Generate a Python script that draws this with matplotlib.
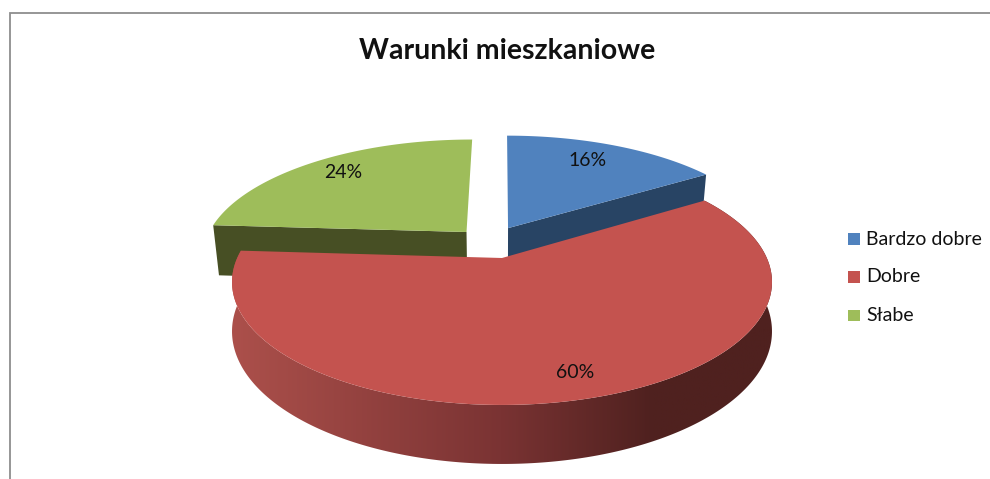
"""3D exploded pie: Warunki mieszkaniowe."""
import numpy as np
import matplotlib
matplotlib.use("Agg")
import matplotlib.pyplot as plt
from matplotlib.colors import LinearSegmentedColormap
from matplotlib.patches import Polygon, Rectangle

plt.rcParams["font.family"] = ["Lato", "DejaVu Sans"]

title = "Warunki mieszkaniowe"
categories = ["Bardzo dobre", "Dobre", "Słabe"]
shares = [16, 60, 24]

colors = ["#5082BE", "#C4534F", "#9EBD5A"]
cut_colors = ["#284464", "#632826", "#474F24"]
# how far each slice is pulled out, in disc units (u right, v to the back)
pull = [(0.024, 0.2655), (0.0, 0.0), (-0.14, 0.2295)]
radius = [1.03, 1.0, 1.015]
label_xy = [(588, 160), (575, 372), (343, 172)]
legend_y = [239, 277, 315.5]

# perspective of the disc, in pixels around the pie centre
CX, CY = 502, 258
A, B, K = 264.8, 118.3, 0.195
DEPTH = 47.5
CUT_DEPTH = 53


def project(u, v, drop=0.0):
    w = 1 + K * v
    return CX + A * u / w, CY - B * v / w + drop / w


def slice_outline(start, end, du, dv, r=1.0):
    theta = np.radians(np.linspace(start, end, 200))
    u = np.concatenate([[du], du + r * np.sin(theta)])
    v = np.concatenate([[dv], dv + r * np.cos(theta)])
    return u, v


fig = plt.figure(figsize=(9.9, 4.79), dpi=100)
ax = fig.add_axes([0, 0, 1, 1])

edges = np.concatenate([[0], np.cumsum(shares)]) * 360 / sum(shares)

# pulled out slices first, the big red one lies over them
for i in (0, 2):
    du, dv = pull[i]
    u, v = slice_outline(edges[i], edges[i + 1], du, dv, radius[i])
    # cut face that looks at the viewer
    if i == 0:
        cu, cv = u[[0, -1]], v[[0, -1]]
    else:
        cu, cv = u[[1, 0]], v[[1, 0]]
    x0, y0 = project(cu, cv)
    x1, y1 = project(cu, cv, CUT_DEPTH)
    # lower edge of the cut face leans in a little towards the centre
    x1 = CX + (x1 - CX) * 0.98
    ax.add_patch(Polygon(np.column_stack([np.r_[x0, x1[::-1]], np.r_[y0, y1[::-1]]]),
                         fc=cut_colors[i], ec="none", zorder=2))
    x, y = project(u, v)
    ax.add_patch(Polygon(np.column_stack([x, y]), fc=colors[i], ec="none", zorder=3))

# red rim with the left to right shading
theta = np.radians(np.linspace(edges[1], edges[2], 400))
rim_u, rim_v = np.sin(theta), np.cos(theta)
xt, yt = project(rim_u, rim_v)
xb, yb = project(rim_u, rim_v, DEPTH)
rim = Polygon(np.column_stack([np.r_[xt, xb[::-1]], np.r_[yt, yb[::-1]]]),
              fc="none", ec="none", zorder=4)
ax.add_patch(rim)
shade = LinearSegmentedColormap.from_list(
    "rim", [(0, "#AC504B"), (0.5, "#7A3333"), (0.78, "#4F211F"), (1, "#4F211F")])
img = ax.imshow(np.linspace(0, 1, 256).reshape(1, -1), cmap=shade, aspect="auto",
                extent=(231, 772, 470, 190), zorder=4)
img.set_clip_path(rim)

u, v = slice_outline(edges[1], edges[2], 0, 0)
x, y = project(u, v)
ax.add_patch(Polygon(np.column_stack([x, y]), fc=colors[1], ec="none", zorder=5))

for share, (lx, ly) in zip(shares, label_xy):
    ax.text(lx, ly, f"{share}%", ha="center", va="center", fontsize=14,
            color="#111111", zorder=6)

for name, color, ly in zip(categories, colors, legend_y):
    ax.add_patch(Rectangle((848, ly - 6), 11.5, 11.5, fc=color, ec="none"))
    ax.text(866, ly, name, ha="left", va="center", fontsize=14, color="#111111")

ax.text(507, 50.5, title, ha="center", va="center", fontsize=20.5, fontweight="bold",
        color="#111111")

# chart border, only the top and left sides are in the picture
ax.plot([9.5, 9.5, 990], [479, 12.5, 12.5], color="#8E8E8E", lw=1.3,
        solid_joinstyle="miter")

ax.set_xlim(0, 990)
ax.set_ylim(479, 0)
ax.axis("off")
fig.savefig("out.png", dpi=100)
